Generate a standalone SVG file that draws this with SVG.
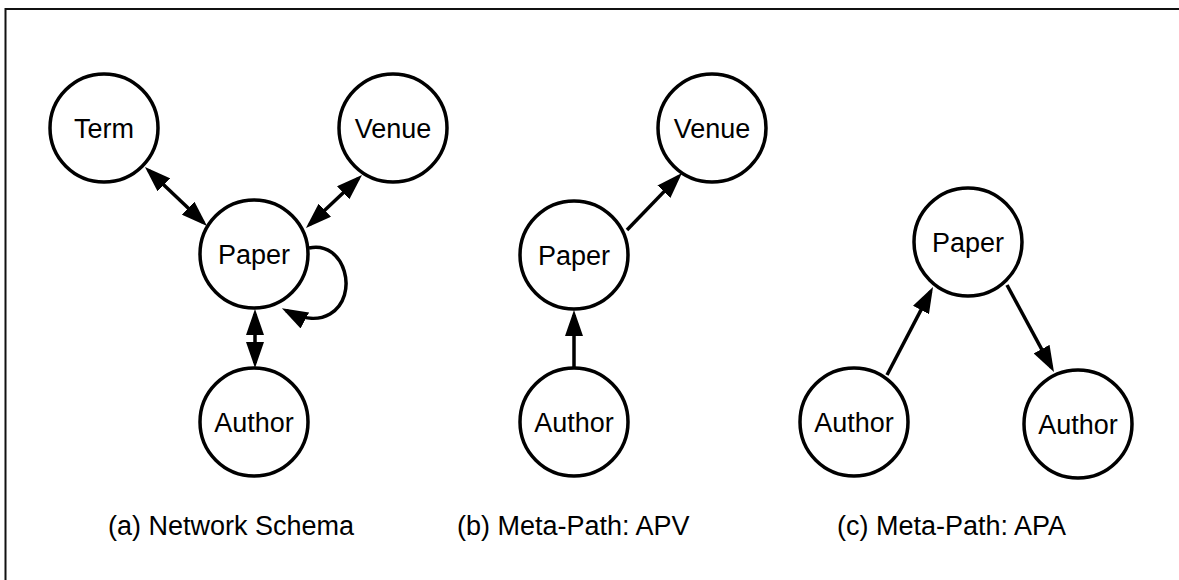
<svg xmlns="http://www.w3.org/2000/svg" width="1179" height="580" viewBox="0 0 1179 580">
<style>
.node circle{fill:#fff;stroke:#000;stroke-width:3.5}
.node text{font-family:"Liberation Sans",Arial,sans-serif;font-size:27px;fill:#000;text-anchor:middle}
.cap{font-family:"Liberation Sans",Arial,sans-serif;font-size:27px;fill:#000}
.edge{fill:none;stroke:#000;stroke-width:3.5}
</style>
<defs>
<marker id="ah" markerUnits="userSpaceOnUse" markerWidth="26" markerHeight="18" refX="21" refY="9" orient="auto-start-reverse">
<path d="M0,0 L26,9 L0,18 Z" fill="#000"/>
</marker>
</defs>
<rect width="1179" height="580" fill="#fff"/>
<path d="M5.5,580 L5.5,9 L1179,9" fill="none" stroke="#111" stroke-width="2"/>
<g id="connectors">
<line class="edge" x1="148.6" y1="170.4" x2="203.4" y2="222.6" marker-start="url(#ah)" marker-end="url(#ah)"/>
<line class="edge" x1="358.4" y1="178.4" x2="309.6" y2="224.6" marker-start="url(#ah)" marker-end="url(#ah)"/>
<line class="edge" x1="255" y1="314" x2="255" y2="363" marker-start="url(#ah)" marker-end="url(#ah)"/>
<path class="edge" d="M309,248 C345,240 360,296 330,314 C318,321 302,319 286.3,310.6" marker-end="url(#ah)"/>
<line class="edge" x1="574" y1="369" x2="574" y2="315" marker-end="url(#ah)"/>
<line class="edge" x1="627" y1="230" x2="678.5" y2="176.6" marker-end="url(#ah)"/>
<line class="edge" x1="887" y1="375" x2="930.7" y2="291.4" marker-end="url(#ah)"/>
<line class="edge" x1="1007" y1="285" x2="1051.6" y2="367.6" marker-end="url(#ah)"/>
</g>
<g id="a-term" class="node"><circle cx="104" cy="128" r="54"/><text x="104" y="137.5">Term</text></g>
<g id="a-venue" class="node"><circle cx="393" cy="128" r="54"/><text x="393" y="137.5">Venue</text></g>
<g id="a-paper" class="node"><circle cx="254" cy="254" r="54"/><text x="254" y="263.5">Paper</text></g>
<g id="a-author" class="node"><circle cx="254" cy="422" r="54"/><text x="254" y="431.5">Author</text></g>
<g id="b-venue" class="node"><circle cx="712" cy="128" r="54"/><text x="712" y="137.5">Venue</text></g>
<g id="b-paper" class="node"><circle cx="574" cy="255" r="54"/><text x="574" y="264.5">Paper</text></g>
<g id="b-author" class="node"><circle cx="574" cy="422" r="54"/><text x="574" y="431.5">Author</text></g>
<g id="c-paper" class="node"><circle cx="968" cy="242" r="54"/><text x="968" y="251.5">Paper</text></g>
<g id="c-author1" class="node"><circle cx="854" cy="422" r="54"/><text x="854" y="431.5">Author</text></g>
<g id="c-author2" class="node"><circle cx="1078" cy="424" r="54"/><text x="1078" y="433.5">Author</text></g>
<text class="cap" x="108" y="535">(a) Network Schema</text>
<text class="cap" x="457" y="535">(b) Meta-Path: APV</text>
<text class="cap" x="837" y="535">(c) Meta-Path: APA</text>
</svg>
